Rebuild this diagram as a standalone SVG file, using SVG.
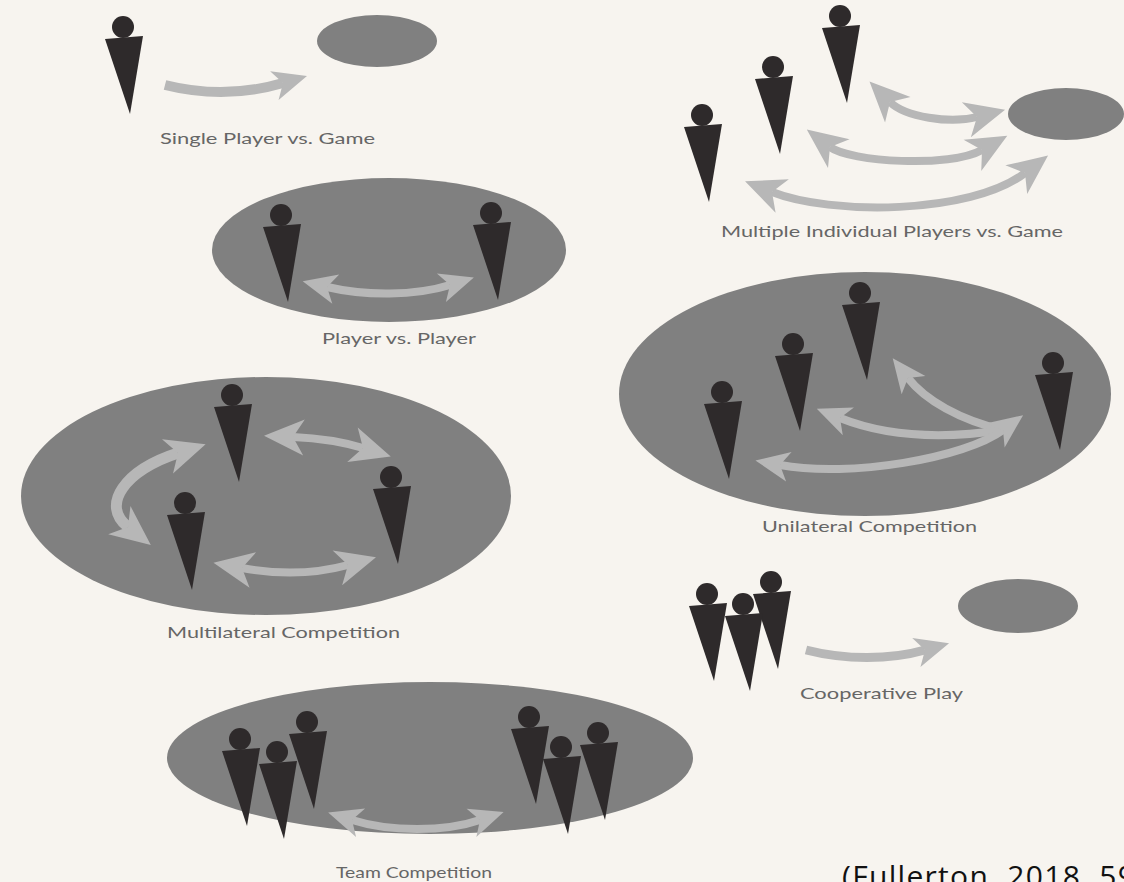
<svg xmlns="http://www.w3.org/2000/svg" width="1124" height="882" viewBox="0 0 1124 882">
<style>
.bg{fill:#f7f4ef}
.zone{fill:#808080}
.fig{fill:#2e2a2b}
.arrow{fill:none;stroke:#b7b7b7;stroke-width:8}
.both{marker-start:url(#headS);marker-end:url(#headS)}
.bothL{marker-start:url(#headL);marker-end:url(#headL)}
.one{marker-end:url(#headS)}
.start{marker-start:url(#headS)}
.lab{font-family:"Lato","Open Sans",sans-serif;font-size:15px;fill:#666}
.cite{font-family:"Open Sans","Liberation Sans",sans-serif;font-size:30px;letter-spacing:1.3px;fill:#111}
</style>
<defs>
<marker id="headL" markerUnits="userSpaceOnUse" markerWidth="46" markerHeight="40" viewBox="0 0 46 40" refX="13" refY="20" orient="auto-start-reverse">
<path d="M2 2L42 20L2 38L13 20Z" fill="#b7b7b7"/>
</marker>
<marker id="headS" markerUnits="userSpaceOnUse" markerWidth="40" markerHeight="34" viewBox="0 0 40 34" refX="11" refY="17" orient="auto-start-reverse">
<path d="M2 2L36 17L2 32L11 17Z" fill="#b7b7b7"/>
</marker>
<g id="person">
<circle cx="0" cy="0" r="11"/>
<path d="M-18 12L20 9L7 87Z"/>
</g>
</defs>
<rect class="bg" width="1124" height="882"/>

<g id="game-single"><ellipse class="zone" cx="377" cy="41" rx="60" ry="26"/></g>
<g id="game-multiple"><ellipse class="zone" cx="1066" cy="114" rx="58" ry="26"/></g>
<g id="arena-pvp"><ellipse class="zone" cx="389" cy="250" rx="177" ry="72"/></g>
<g id="arena-unilateral"><ellipse class="zone" cx="865" cy="394" rx="246" ry="122"/></g>
<g id="arena-multilateral"><ellipse class="zone" cx="266" cy="496" rx="245" ry="119"/></g>
<g id="game-cooperative"><ellipse class="zone" cx="1018" cy="606" rx="60" ry="27"/></g>
<g id="arena-team"><ellipse class="zone" cx="430" cy="758" rx="263" ry="76"/></g>

<g id="connectors">
<path class="arrow one" style="stroke-width:10" d="M165 85Q225 100 283 83"/>
<path class="arrow bothL" d="M890 102C905 117 950 124 977 117"/>
<path class="arrow bothL" d="M830 147C850 162 950 168 982 150"/>
<path class="arrow bothL" d="M772 192C830 215 970 215 1025 173"/>
<path class="arrow both" d="M327 287C365 296 415 296 450 285"/>
<path class="arrow start" d="M908 378C925 400 960 420 1003 430"/>
<path class="arrow start" d="M840 418C890 438 950 438 1003 430"/>
<path class="arrow both" d="M780 465C850 478 965 458 1003 430"/>
<path class="arrow bothL" style="stroke-width:11" d="M128 527C100 505 125 470 178 453"/>
<path class="arrow bothL" d="M293 437C315 438 340 441 363 448"/>
<path class="arrow bothL" d="M242 568C280 575 315 574 348 565"/>
<path class="arrow one" style="stroke-width:9" d="M806 650C845 660 890 660 925 650"/>
<path class="arrow both" d="M352 820C390 832 445 832 480 820"/>
</g>

<g class="fig">
<g id="player-single"><use href="#person" x="123" y="27"/></g>
<g id="player-multi-1"><use href="#person" x="702" y="115"/></g>
<g id="player-multi-2"><use href="#person" x="773" y="67"/></g>
<g id="player-multi-3"><use href="#person" x="840" y="16"/></g>
<g id="player-pvp-1"><use href="#person" x="281" y="215"/></g>
<g id="player-pvp-2"><use href="#person" x="491" y="213"/></g>
<g id="player-uni-1"><use href="#person" x="722" y="392"/></g>
<g id="player-uni-2"><use href="#person" x="793" y="344"/></g>
<g id="player-uni-3"><use href="#person" x="860" y="293"/></g>
<g id="player-uni-4"><use href="#person" x="1053" y="363"/></g>
<g id="player-mul-1"><use href="#person" x="232" y="395"/></g>
<g id="player-mul-2"><use href="#person" x="185" y="503"/></g>
<g id="player-mul-3"><use href="#person" x="391" y="477"/></g>
<g id="team-cooperative">
<use href="#person" x="707" y="594"/>
<use href="#person" x="771" y="582"/>
<use href="#person" x="743" y="604"/>
</g>
<g id="team-left">
<use href="#person" x="240" y="739"/>
<use href="#person" x="307" y="722"/>
<use href="#person" x="277" y="752"/>
</g>
<g id="team-right">
<use href="#person" x="529" y="717"/>
<use href="#person" x="598" y="733"/>
<use href="#person" x="561" y="747"/>
</g>
</g>

<g id="labels">
<text class="lab" x="160" y="144" textLength="215" lengthAdjust="spacingAndGlyphs">Single Player vs. Game</text>
<text class="lab" x="721" y="237" textLength="342" lengthAdjust="spacingAndGlyphs">Multiple Individual Players vs. Game</text>
<text class="lab" x="322" y="344" textLength="154" lengthAdjust="spacingAndGlyphs">Player vs. Player</text>
<text class="lab" x="762" y="532" textLength="215" lengthAdjust="spacingAndGlyphs">Unilateral Competition</text>
<text class="lab" x="167" y="638" textLength="233" lengthAdjust="spacingAndGlyphs">Multilateral Competition</text>
<text class="lab" x="800" y="699" textLength="163" lengthAdjust="spacingAndGlyphs">Cooperative Play</text>
<text class="lab" x="336" y="878" textLength="156" lengthAdjust="spacingAndGlyphs">Team Competition</text>
<text class="cite" x="842" y="887">(Fullerton, 2018, 59</text>
</g>
</svg>
